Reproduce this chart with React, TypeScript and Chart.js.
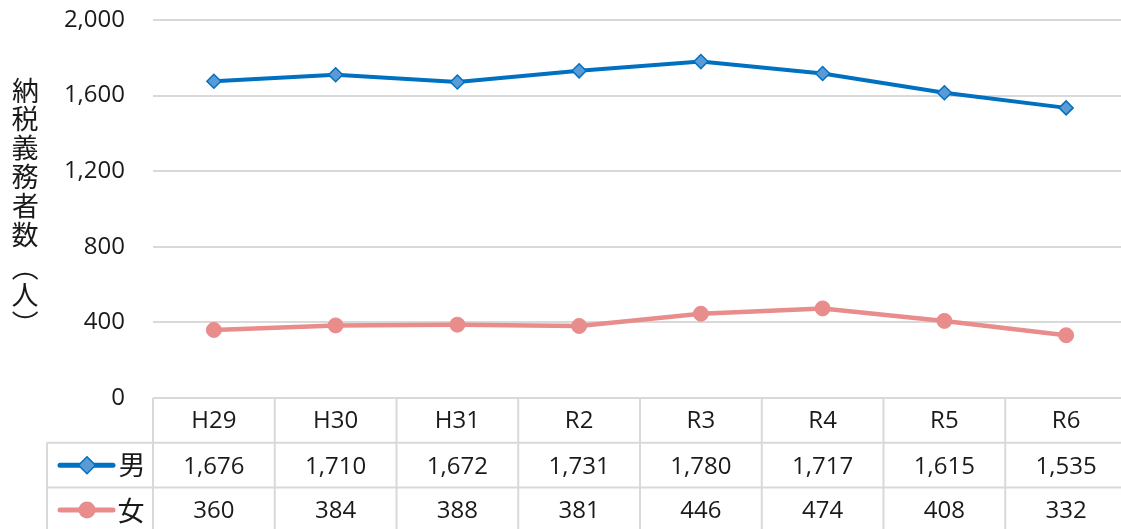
import React, { useEffect, useRef } from "react";
import { Chart, registerables } from "chart.js";

Chart.register(...registerables);

const categories = ["H29", "H30", "H31", "R2", "R3", "R4", "R5", "R6"];
const maleValues = [1676, 1710, 1672, 1731, 1780, 1717, 1615, 1535];
const femaleValues = [360, 384, 388, 381, 446, 474, 408, 332];
const seriesNames = ["男", "女"];
const yTickValues = [0, 400, 800, 1200, 1600, 2000];
const axisTitle = "納税義務者数（人）";

const BLUE = "#0070c0";
const BLUE_FILL = "#5b9bd5";
const PINK = "#e88c8c";
const GRID = "#d9d9d9";
const TEXT = "#1a1a1a";
const NUM_FONT = '"Open Sans", "Noto Sans", sans-serif';
const CJK_FONT = '"Noto Sans CJK JP", "Noto Sans CJK SC", sans-serif';

const fmt = (v: number) => v.toLocaleString("en-US");

function drawCentered(ctx: CanvasRenderingContext2D, ch: string, x: number, y: number, rotate: boolean) {
  ctx.save();
  ctx.textAlign = "left";
  ctx.textBaseline = "alphabetic";
  const m = ctx.measureText(ch);
  const gx = (m.actualBoundingBoxRight - m.actualBoundingBoxLeft) / 2;
  const gy = (m.actualBoundingBoxDescent - m.actualBoundingBoxAscent) / 2;
  ctx.translate(x, y);
  if (rotate) ctx.rotate(Math.PI / 2);
  ctx.fillText(ch, -gx, -gy);
  ctx.restore();
}

// plot area in the reference runs slightly past the right edge of the picture
const widenPlugin = {
  id: "widenArea",
  afterLayout(chart: any) {
    const r = chart.width + 6;
    chart.chartArea.right = r;
    chart.chartArea.width = r - chart.chartArea.left;
    const xs = chart.scales.x;
    xs.right = r;
    xs.width = r - xs.left;
    xs.configure();
  },
};

const titlePlugin = {
  id: "verticalTitle",
  afterDraw(chart: any) {
    const ctx: CanvasRenderingContext2D = chart.ctx;
    ctx.save();
    ctx.fillStyle = TEXT;
    ctx.font = `27px ${CJK_FONT}`;
    const chars = Array.from(axisTitle);
    const step = 28.8;
    const centers: number[] = [];
    for (let i = 0; i < 6; i++) centers.push(90 + step * i);
    centers.push(276, 295, 315);
    chars.forEach((ch, i) => {
      const rot = ch === "（" || ch === "）";
      drawCentered(ctx, ch, 25, centers[i], rot);
    });
    ctx.restore();
  },
};

const tablePlugin = {
  id: "dataTable",
  afterDraw(chart: any) {
    const ctx: CanvasRenderingContext2D = chart.ctx;
    const xs = chart.scales.x;
    const area = chart.chartArea;
    const top = area.bottom;
    const rowH = 44.8;
    const legendLeft = 47;
    const n = categories.length;
    const colW = xs.getPixelForValue(1) - xs.getPixelForValue(0);
    const left = xs.getPixelForValue(0) - colW / 2;
    const right = xs.getPixelForValue(n - 1) + colW / 2;
    const bottom = chart.height;

    ctx.save();
    ctx.strokeStyle = GRID;
    ctx.lineWidth = 2;
    const line = (x1: number, y1: number, x2: number, y2: number) => {
      ctx.beginPath();
      ctx.moveTo(x1, y1);
      ctx.lineTo(x2, y2);
      ctx.stroke();
    };
    line(left, top, right, top);
    line(legendLeft, top + rowH, right, top + rowH);
    line(legendLeft, top + 2 * rowH, right, top + 2 * rowH);
    line(legendLeft, top + rowH, legendLeft, bottom);
    for (let i = 0; i <= n; i++) {
      const x = left + i * colW;
      line(x, top, x, bottom);
    }

    ctx.fillStyle = TEXT;
    ctx.textAlign = "center";
    ctx.textBaseline = "middle";
    ctx.font = `24px ${NUM_FONT}`;
    const rows = [maleValues, femaleValues];
    categories.forEach((c, i) => {
      const cx = xs.getPixelForValue(i);
      ctx.fillText(c, cx, top + rowH * 0.5 + 1);
      rows.forEach((vals, r) => {
        ctx.fillText(fmt(vals[i]), cx, top + rowH * (1.5 + r) + 1.5);
      });
    });

    const keyColors = [BLUE, PINK];
    keyColors.forEach((col, r) => {
      const cy = top + rowH * (1.5 + r);
      ctx.strokeStyle = col;
      ctx.lineWidth = 5;
      ctx.lineCap = "round";
      line(60, cy, 113, cy);
      if (r === 0) {
        ctx.beginPath();
        ctx.moveTo(87, cy - 8.5);
        ctx.lineTo(95.5, cy);
        ctx.lineTo(87, cy + 8.5);
        ctx.lineTo(78.5, cy);
        ctx.closePath();
        ctx.fillStyle = BLUE_FILL;
        ctx.fill();
        ctx.lineWidth = 1.5;
        ctx.strokeStyle = BLUE;
        ctx.stroke();
      } else {
        ctx.beginPath();
        ctx.arc(87, cy, 8.5, 0, Math.PI * 2);
        ctx.fillStyle = PINK;
        ctx.fill();
      }
      ctx.fillStyle = TEXT;
      ctx.font = `27px ${CJK_FONT}`;
      drawCentered(ctx, seriesNames[r], 131, cy, false);
    });
    ctx.restore();
  },
};

export default function App() {
  const ref = useRef<HTMLCanvasElement | null>(null);

  useEffect(() => {
    document.body.style.margin = "0";
    if (!ref.current) return;
    const chart = new Chart(ref.current, {
      type: "line",
      data: {
        labels: categories,
        datasets: [
          {
            label: seriesNames[0],
            data: maleValues,
            borderColor: BLUE,
            borderWidth: 4,
            pointStyle: "rectRot",
            pointRadius: 7,
            pointBackgroundColor: BLUE_FILL,
            pointBorderColor: BLUE,
            pointBorderWidth: 1.5,
            tension: 0,
          },
          {
            label: seriesNames[1],
            data: femaleValues,
            borderColor: PINK,
            borderWidth: 4.5,
            pointStyle: "circle",
            pointRadius: 7.5,
            pointBackgroundColor: PINK,
            pointBorderColor: PINK,
            pointBorderWidth: 1,
            tension: 0,
          },
        ],
      },
      options: {
        animation: false,
        responsive: true,
        maintainAspectRatio: false,
        layout: { autoPadding: false, padding: { left: 0, right: 0, top: 20, bottom: 131 } },
        plugins: {
          legend: { display: false },
          tooltip: { enabled: false },
          title: { display: false },
        },
        scales: {
          x: {
            type: "category",
            display: false,
            offset: true,
          },
          y: {
            min: 0,
            max: 2000,
            afterFit: (s: any) => {
              s.width = 153;
              s.paddingTop = 0;
              s.paddingBottom = 0;
            },
            afterBuildTicks: (s: any) => {
              s.ticks = yTickValues.map((v) => ({ value: v }));
            },
            border: { display: false },
            grid: { color: GRID, lineWidth: 2, drawTicks: false },
            ticks: {
              padding: 28,
              color: TEXT,
              font: { family: NUM_FONT, size: 24 },
              callback: (v: any) => fmt(Number(v)),
            },
          },
        },
      },
      plugins: [widenPlugin, titlePlugin, tablePlugin],
    });
    return () => chart.destroy();
  }, []);

  return (
    <div style={{ width: 1121, height: 529, position: "relative" }}>
      <canvas ref={ref} />
    </div>
  );
}
